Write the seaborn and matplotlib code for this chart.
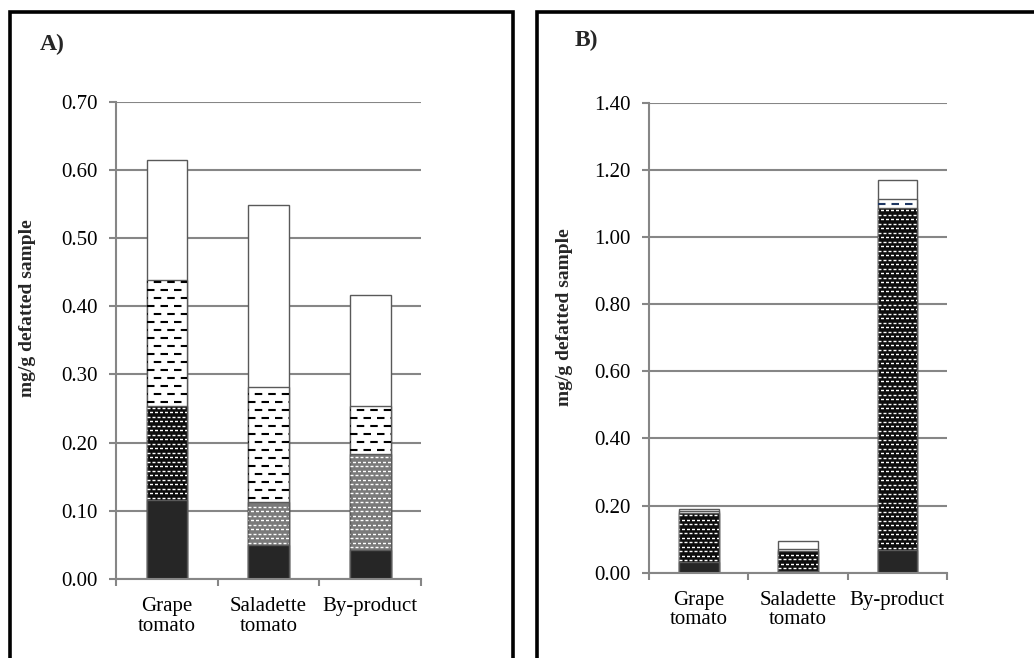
import numpy as np
import matplotlib
matplotlib.use('Agg')
import matplotlib.pyplot as plt
from matplotlib.patches import Rectangle
from matplotlib.ticker import FormatStrFormatter, MultipleLocator, FixedLocator
import seaborn as sns

categories = ['Grape\ntomato', 'Saladette\ntomato', 'By-product']

# A) stacked layers, bottom to top (mg/g defatted sample)
a_solid = [0.116, 0.050, 0.043]
a_dotted = [0.137, 0.063, 0.140]
a_dashed = [0.185, 0.169, 0.070]
a_white = [0.177, 0.267, 0.164]

# B) stacked layers, bottom to top
b_solid = [0.031, 0.006, 0.068]
b_dotted = [0.146, 0.059, 1.018]
b_dashed = [0.006, 0.006, 0.027]
b_white = [0.006, 0.023, 0.057]

sns.set_theme(style='white')
plt.rcParams['font.family'] = ['Liberation Serif', 'DejaVu Serif']
plt.rcParams['lines.scale_dashes'] = False

GRID = '#868686'
EDGE = '#595959'

# texture: (row spacing px, dash on px, dash off px, line width pt)
FINE = (4.5, 3.0, 2.0, 1.0)
COARSE = (8.0, 7.5, 6.0, 1.5)

# (face, texture, texture colour) for each bar of each layer
styles_a = [
    [('#262626', None, None)] * 3,
    [('#0d0d0d', FINE, 'white'), ('#7a7a7a', FINE, 'white'), ('#7a7a7a', FINE, 'white')],
    [('white', COARSE, 'black')] * 3,
    [('white', None, None)] * 3,
]
styles_b = [
    [('#262626', None, None)] * 3,
    [('#0d0d0d', FINE, 'white')] * 3,
    [('white', COARSE, 'black'), ('white', COARSE, 'black'), ('white', COARSE, '#1f3864')],
    [('white', None, None)] * 3,
]


def add_texture(ax, p, y_lo, tex, color):
    # rows of staggered short dashes, only inside the visible segment of the stack
    row_px, on_px, off_px, lw = tex
    x0, w = p.get_x(), p.get_width()
    y1 = p.get_y() + p.get_height()
    clip = Rectangle((x0, y_lo), w, y1 - y_lo, transform=ax.transData)
    (px0, py0), (px1, py1) = ax.transData.transform([(x0, y_lo), (x0 + w, y1)])
    inv = ax.transData.inverted()
    pt = 72 / ax.figure.dpi
    for k, ypx in enumerate(np.arange(py0 + row_px / 2, py1 - 0.5, row_px)):
        y = inv.transform((px0, ypx))[1]
        off = 0 if k % 2 == 0 else (on_px + off_px) / 2
        line, = ax.plot([x0, x0 + w], [y, y], color=color, lw=lw,
                        dash_capstyle='butt',
                        linestyle=(off * pt, (on_px * pt, off_px * pt)))
        line.set_clip_path(clip)


def draw_panel(ax, layers, styles, ymax, step):
    cum = np.cumsum(np.array(layers), axis=0)
    # draw tallest stack first so lower layers sit on top
    for i in reversed(range(len(layers))):
        n0 = len(ax.patches)
        sns.barplot(x=categories, y=cum[i], ax=ax, width=0.4, color='white',
                    edgecolor=EDGE, linewidth=1.0)
        ax.set_ylim(0, ymax)
        ax.set_xlim(-0.5, 2.5)
        lows = cum[i - 1] if i > 0 else np.zeros(len(categories))
        for p, lo, (fc, tex, tc) in zip(ax.patches[n0:], lows, styles[i]):
            p.set_facecolor(fc)
            if tex:
                add_texture(ax, p, lo, tex, tc)
    ax.yaxis.set_major_locator(MultipleLocator(step))
    ax.yaxis.set_major_formatter(FormatStrFormatter('%.2f'))
    ax.set_axisbelow(True)
    ax.grid(axis='y', color=GRID, lw=1.5)
    ax.grid(axis='x', visible=False)
    for s in ['top', 'right']:
        ax.spines[s].set_visible(False)
    for s in ['left', 'bottom']:
        ax.spines[s].set_color(GRID)
        ax.spines[s].set_linewidth(1.5)
    ax.tick_params(axis='y', which='major', left=True, length=5, width=1.5,
                   color=GRID, labelsize=15, pad=8, labelcolor='black')
    ax.tick_params(axis='x', which='major', bottom=False, length=0, labelsize=15,
                   pad=13, labelcolor='black')
    ax.xaxis.set_minor_locator(FixedLocator([-0.5, 0.5, 1.5, 2.5]))
    ax.tick_params(axis='x', which='minor', bottom=True, length=5, width=1.5, color=GRID)
    for t in ax.get_xticklabels():
        t.set_linespacing(1.05)
    ax.set_xlabel('')
    ax.set_ylabel('mg/g defatted sample', fontsize=14, fontweight='bold')


fig = plt.figure(figsize=(10.34, 6.58), dpi=100)
ax_a = fig.add_axes([0.1122, 0.1201, 0.2950, 0.7253])
ax_b = fig.add_axes([0.6277, 0.1296, 0.2882, 0.7140])

draw_panel(ax_a, [a_solid, a_dotted, a_dashed, a_white], styles_a, 0.70, 0.10)
draw_panel(ax_b, [b_solid, b_dotted, b_dashed, b_white], styles_b, 1.40, 0.20)
ax_a.yaxis.set_label_coords(-0.262, 0.568)
ax_b.yaxis.set_label_coords(-0.255, 0.545)

# panel frames
fig.add_artist(Rectangle((10 / 1034, -0.1), 503 / 1034, 1.1 - 12 / 658,
                         transform=fig.transFigure, fill=False, lw=2.6, ec='black'))
fig.add_artist(Rectangle((537 / 1034, -0.1), 0.6, 1.1 - 12 / 658,
                         transform=fig.transFigure, fill=False, lw=2.6, ec='black'))
fig.text(40 / 1034, 1 - 44 / 658, 'A)', fontsize=17, fontweight='bold', va='center')
fig.text(575 / 1034, 1 - 40 / 658, 'B)', fontsize=17, fontweight='bold', va='center')

fig.savefig('out.png', dpi=100)
